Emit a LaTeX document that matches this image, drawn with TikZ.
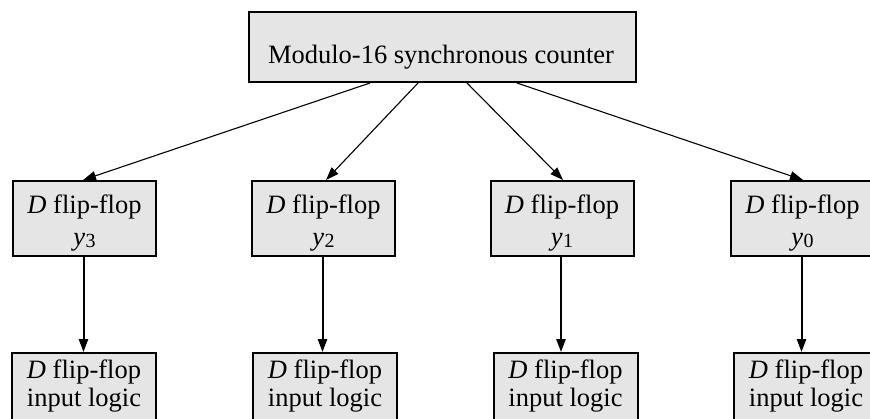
\documentclass[tikz,border=0pt]{standalone}
\usepackage{fontspec}
\setmainfont{Liberation Serif}
\usetikzlibrary{arrows.meta,calc}

\newcommand\ysub[1]{\textit{y}\kern0.3pt\raisebox{-1.4pt}{\fontsize{10}{10}\selectfont #1}}

\tikzset{
  blk/.style={draw=black, line width=1pt, fill=black!10, rectangle, inner sep=0pt,
              minimum width=71.5pt, minimum height=37.5pt},
  txt/.style={inner sep=0pt, anchor=base, font=\fontsize{13.25}{14}\selectfont},
  feed/.style={line width=0.55pt, -{Triangle[length=6.5pt,width=4.6pt]}},
  down/.style={line width=1pt, -{Triangle[length=6.5pt,width=4.6pt]}}
}

\begin{document}
\begin{tikzpicture}[x=0.5pt,y=-0.5pt]
  \useasboundingbox (0,0) rectangle (870,418);
  \clip (0,0) rectangle (870,418);

  % counter block
  \node[blk, minimum width=193.5pt, minimum height=35pt] (cnt) at (442.5,47) {};
  \node[txt] (cntt) at (441,63) {Modulo-16 synchronous counter};

  % flip-flops
  \foreach \i/\x in {3/84.5, 2/323.5, 1/562, 0/802.5} {
    \node[blk] (ff\i) at (\x,218.5) {};
    \node[txt] (ff\i a) at (\x,213) {\textit{D} flip-flop};
    \node[txt] (ff\i b) at (\x,245) {\ysub{\i}};
  }

  % input logic blocks
  \foreach \i/\x in {3/84, 2/325, 1/565.5, 0/806} {
    \node[blk, minimum width=72pt, anchor=north] (il\i) at (\x,352) {};
    \node[txt] (il\i a) at (\x,378) {\textit{D} flip-flop};
    \node[txt] (il\i b) at (\x,406) {input logic};
  }

  % counter to flip-flops
  \draw[feed] ($(cnt.south)+(-72.5,0)$) -- ($(ff3.north)+(-1.5,0)$);
  \draw[feed] ($(cnt.south)+(-24.5,0)$) -- ($(ff2.north)+(2.5,0)$);
  \draw[feed] ($(cnt.south)+(24.5,0)$)  -- ($(ff1.north)+(1,0)$);
  \draw[feed] ($(cnt.south)+(74.5,0)$)  -- ($(ff0.north)+(0.5,0)$);

  % flip-flops to input logic
  \foreach \i in {3,2,1,0} {
    \coordinate (out\i) at ($(ff\i.south)+(-1,0)$);
    \coordinate (in\i) at (out\i |- il\i.north);
    \draw[down] (out\i) -- (in\i);
  }
\end{tikzpicture}
\end{document}
